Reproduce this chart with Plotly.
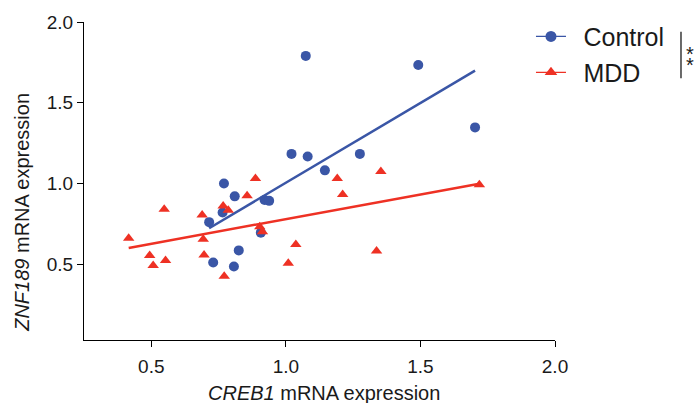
import numpy as np
import plotly.graph_objects as go

# Control group (blue circles)
control_x = [0.715, 0.730, 0.765, 0.770, 0.810, 0.807, 0.825, 0.907, 0.921, 0.938,
             1.021, 1.074, 1.081, 1.145, 1.275, 1.492, 1.703]
control_y = [0.760, 0.510, 0.820, 1.000, 0.920, 0.485, 0.585, 0.695, 0.898, 0.892,
             1.183, 1.790, 1.167, 1.081, 1.183, 1.734, 1.347]

# MDD group (red triangles)
mdd_x = [0.416, 0.494, 0.507, 0.548, 0.553, 0.689, 0.693, 0.696, 0.767, 0.771, 0.786,
         0.856, 0.887, 0.903, 0.913, 1.009, 1.037, 1.191, 1.211, 1.337, 1.353, 1.719]
mdd_y = [0.660, 0.554, 0.492, 0.840, 0.522, 0.805, 0.654, 0.556, 0.860, 0.425, 0.834,
         0.923, 1.031, 0.731, 0.700, 0.505, 0.621, 1.031, 0.931, 0.581, 1.074, 0.991]

x_ticks = [0.5, 1.0, 1.5, 2.0]
y_ticks = [0.5, 1.0, 1.5, 2.0]

BLUE = "#3A56A6"
RED = "#EE3124"
TXT = "#1a1a1a"
FONT = "Liberation Sans, Arial, sans-serif"

fig = go.Figure()


def fit_line(xs, ys):
    k, b = np.polyfit(xs, ys, 1)
    lx = np.array([min(xs), max(xs)])
    return lx, k * lx + b


GAP = "\u2002"
for xs, ys, color, name, symbol, leg in [
    (control_x, control_y, BLUE, "Control", "circle", "legend"),
    (mdd_x, mdd_y, RED, "MDD", "triangle-up", "legend2"),
]:
    fig.add_trace(go.Scatter(
        x=xs, y=ys, mode="markers", name=name, legend=leg,
        marker=dict(color=color, size=10, symbol=symbol, line=dict(width=0)),
        showlegend=False,
    ))
    lx, ly = fit_line(xs, ys)
    fig.add_trace(go.Scatter(
        x=lx, y=ly, mode="lines", line=dict(color=color, width=2.5),
        showlegend=False, hoverinfo="skip",
    ))
    # legend entry (line + marker)
    fig.add_trace(go.Scatter(
        x=[None], y=[None], mode="lines+markers", name=GAP + name, legend=leg,
        line=dict(color=color, width=1.2),
        marker=dict(color=color, size=11, symbol=symbol),
    ))

axis_common = dict(
    showgrid=False, zeroline=False, showline=True, linecolor="black", linewidth=1.3,
    ticks="outside", ticklen=6, tickwidth=1.3, tickcolor="black",
    tickfont=dict(family=FONT, size=19, color=TXT),
)

fig.update_layout(
    width=696, height=403,
    margin=dict(l=84, r=141, t=18, b=63),
    paper_bgcolor="white", plot_bgcolor="white",
    xaxis=dict(range=[0.25, 2.0], tickvals=x_ticks, ticktext=[f"{v:.1f}" for v in x_ticks],
               ticklabelstandoff=3, **axis_common),
    yaxis=dict(range=[0.03, 2.0], tickvals=y_ticks, ticktext=[f"{v:.1f}" for v in y_ticks],
               **axis_common),
    legend=dict(x=0.949, y=0.954, xanchor="left", yanchor="middle",
                font=dict(family=FONT, size=25, color=TXT), bgcolor="rgba(0,0,0,0)"),
    legend2=dict(x=0.949, y=0.841, xanchor="left", yanchor="middle",
                 font=dict(family=FONT, size=25, color=TXT), bgcolor="rgba(0,0,0,0)"),
    showlegend=True,
)

# axis titles
fig.add_annotation(xref="paper", yref="paper", x=0.5096, y=-0.168,
                   xanchor="center", yanchor="middle", showarrow=False,
                   text="<i>CREB1</i> mRNA expression",
                   font=dict(family=FONT, size=20, color=TXT))
fig.add_annotation(xref="paper", yref="paper", x=-0.1316, y=0.40,
                   xanchor="center", yanchor="middle", showarrow=False, textangle=-90,
                   text="<i>ZNF189</i> mRNA expression",
                   font=dict(family=FONT, size=20, color=TXT))

# significance bracket with stacked asterisks
fig.add_shape(type="line", xref="paper", yref="paper", x0=1.2675, x1=1.2675,
              y0=0.8230, y1=0.9690, line=dict(color=TXT, width=1.3))
for ypix in (50.5, 61.5):
    fig.add_annotation(xref="paper", yref="paper", x=(690 - 84) / 471,
                       y=(340 - ypix) / 322, text="*",
                       showarrow=False, xanchor="center", yanchor="middle",
                       font=dict(family=FONT, size=20, color=TXT))

fig.write_html("out.html")
